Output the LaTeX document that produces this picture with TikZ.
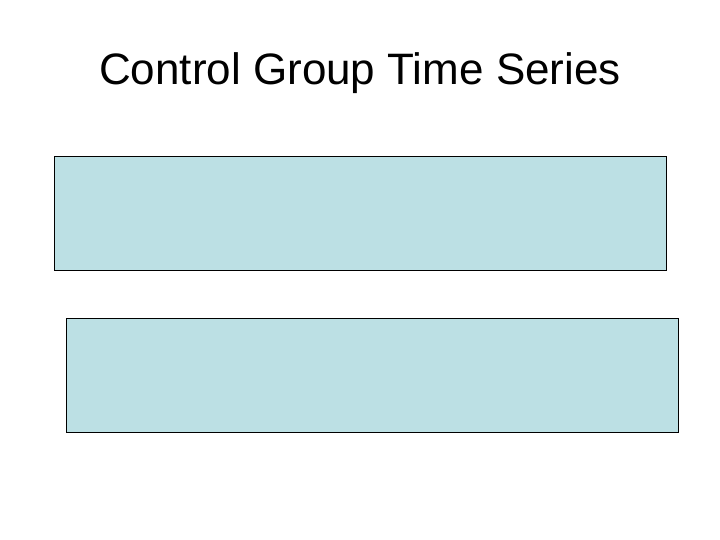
\documentclass[tikz,border=0pt]{standalone}
\usepackage{fontspec}
\setmainfont{Liberation Sans}
\definecolor{boxfill}{RGB}{188,224,228}
\begin{document}
\begin{tikzpicture}[x=1pt,y=-1pt,
  panel/.style={draw=black,line width=1pt,fill=boxfill,inner sep=0pt,anchor=north west}]
\useasboundingbox (0,0) rectangle (720,540);
\node[font=\fontsize{44}{50}\selectfont,anchor=base] (title) at (360,85) {Control Group Time Series};
\node[panel,minimum width=612pt,minimum height=114pt] (p1) at (54,156) {};
\node[panel,minimum width=612pt,minimum height=114pt] (p2) at (66,318) {};
\end{tikzpicture}
\end{document}
